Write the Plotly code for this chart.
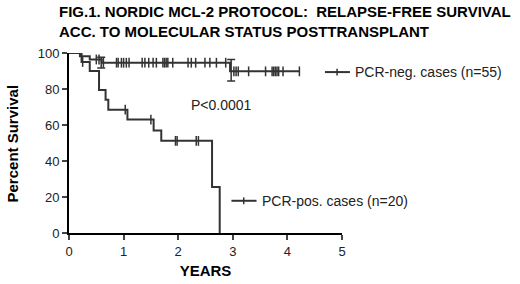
import numpy as np
import plotly.graph_objects as go

# PCR-negative cases (n=55): step curve
neg_t = [0, 0.2, 0.38, 0.6, 2.95, 4.22]
neg_s = [100, 98.2, 96.4, 94.6, 89.8, 89.8]
neg_cens = [0.5, 0.55, 0.63, 0.87, 0.9, 0.96, 1.0, 1.05, 1.1, 1.34, 1.39, 1.46, 1.54, 1.6,
            1.72, 1.75, 1.78, 1.81, 1.9, 2.18, 2.24, 2.32, 2.49, 2.58, 2.7, 2.87,
            3.02, 3.06, 3.1, 3.29, 3.6, 3.72, 3.75, 3.78, 3.81, 3.84, 3.92, 4.22]

# PCR-positive cases (n=20)
pos_t = [0, 0.23, 0.38, 0.55, 0.67, 0.72, 1.07, 1.55, 1.69, 2.62, 2.76]
pos_s = [100, 95, 90, 79.5, 74, 68.5, 63, 57, 51.2, 25.6, 0]
pos_cens = [0.25, 1.03, 1.5, 1.95, 1.98, 2.33, 2.37]

# error bars (SE) shown at selected points
err_t = [0.59, 2.97]
err_y = [94.6, 90.4]
err_e = [3.0, 6.0]

x_ticks = [0, 1, 2, 3, 4, 5]
y_ticks = [0, 20, 40, 60, 80, 100]


def step_at(ts, ss, t):
    idx = np.searchsorted(ts, t, side="right") - 1
    return [ss[i] for i in idx]


LINE = "#333333"
fig = go.Figure()
for t, s, c in [(neg_t, neg_s, neg_cens), (pos_t, pos_s, pos_cens)]:
    fig.add_trace(go.Scatter(x=t, y=s, mode="lines", line=dict(color=LINE, width=2, shape="hv"),
                             cliponaxis=False, showlegend=False, hoverinfo="skip"))
    fig.add_trace(go.Scatter(x=c, y=step_at(t, s, c), mode="markers",
                             marker=dict(symbol="line-ns", size=7, line=dict(color=LINE, width=1.5)),
                             cliponaxis=False, showlegend=False, hoverinfo="skip"))

fig.add_trace(go.Scatter(x=err_t, y=err_y, mode="markers", marker=dict(size=1, color="rgba(0,0,0,0)"),
                         error_y=dict(type="data", array=err_e, color=LINE, thickness=1.5, width=4),
                         cliponaxis=False, showlegend=False, hoverinfo="skip"))

FONT = "Liberation Sans, Arial, sans-serif"
fig.update_layout(
    width=520, height=284,
    margin=dict(l=69, r=178, t=53, b=51),
    paper_bgcolor="white", plot_bgcolor="white",
    font=dict(family=FONT, color="#222222", size=13),
    showlegend=False,
    xaxis=dict(range=[0, 5], tickvals=x_ticks, ticks="outside", ticklen=5, tickwidth=2,
               showline=True, linewidth=2, linecolor="black", showgrid=False, zeroline=False,
               tickfont=dict(size=13), automargin=False,
               title=dict(text="<b>YEARS</b>", font=dict(size=15, color="black"), standoff=8)),
    yaxis=dict(range=[0, 100], tickvals=y_ticks, ticks="outside", ticklen=5, tickwidth=2,
               showline=True, linewidth=2, linecolor="black", showgrid=False, zeroline=False,
               tickfont=dict(size=13), automargin=False),
    shapes=[
        dict(type="line", xref="paper", yref="paper", x0=0.9376, x1=1.029, y0=0.894, y1=0.894,
             line=dict(color=LINE, width=2)),
        dict(type="line", xref="paper", yref="paper", x0=0.982, x1=0.982, y0=0.875, y1=0.913,
             line=dict(color=LINE, width=1.5)),
        dict(type="line", xref="paper", yref="paper", x0=0.595, x1=0.687, y0=0.179, y1=0.179,
             line=dict(color=LINE, width=2)),
        dict(type="line", xref="paper", yref="paper", x0=0.64, x1=0.64, y0=0.16, y1=0.198,
             line=dict(color=LINE, width=1.5)),
    ],
    annotations=[
        dict(text="<b>FIG.1. NORDIC MCL-2 PROTOCOL:  RELAPSE-FREE SURVIVAL<br>ACC. TO MOLECULAR STATUS POSTTRANSPLANT</b>",
             xref="paper", yref="paper", x=-0.045, y=1.176, xanchor="left", yanchor="middle", align="left",
             showarrow=False, font=dict(size=15, color="black", family=FONT)),
        dict(text="<b>Percent Survival</b>", xref="paper", yref="paper", x=-0.207, y=0.5,
             xanchor="center", yanchor="middle", textangle=-90, showarrow=False,
             font=dict(size=15, color="black")),
        dict(text="PCR-neg. cases (n=55)", xref="paper", yref="paper", x=1.04, y=0.894,
             xanchor="left", yanchor="middle", showarrow=False, font=dict(size=14)),
        dict(text="PCR-pos. cases (n=20)", xref="paper", yref="paper", x=0.70, y=0.179,
             xanchor="left", yanchor="middle", showarrow=False, font=dict(size=14)),
        dict(text="P<0.0001", xref="paper", yref="paper", x=0.44, y=0.713,
             xanchor="left", yanchor="middle", showarrow=False, font=dict(size=14)),
    ],
)
# remove the browser's default 8px body margin so the figure sits at the page origin
fig.write_html("out.html", config={"displayModeBar": False},
               post_script="document.body.style.margin='0';")
